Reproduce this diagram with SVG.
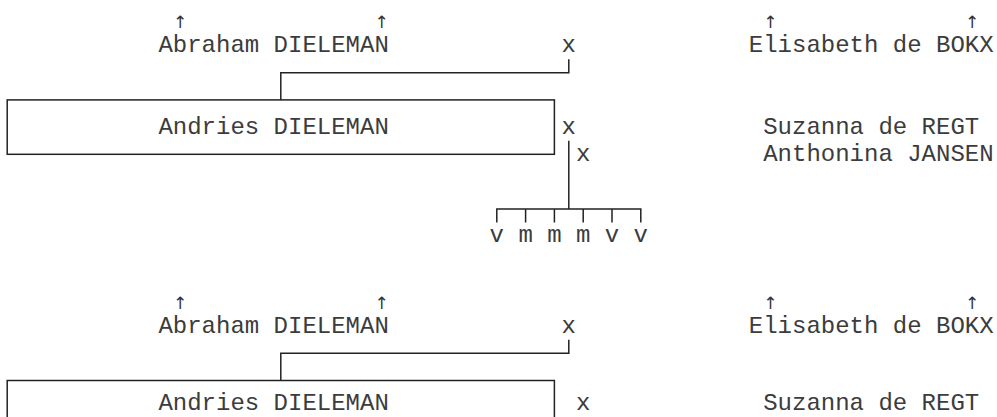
<svg xmlns="http://www.w3.org/2000/svg" width="997" height="417" viewBox="0 0 997 417">
<style>
text{font-family:"Liberation Mono","Courier New",monospace;font-size:24px;fill:#3c3c3c}
text.ar{font-family:"DejaVu Sans","DejaVu Sans Mono",sans-serif;font-size:17px;text-anchor:middle;fill:#333}
.ln{fill:none;stroke:#222;stroke-width:1.5}
</style>
<rect width="997" height="417" fill="#fff"/>
<g id="chart1">
<g id="abraham1"><text class="ar" x="180" y="28">↑</text><text class="ar" x="381.6" y="28">↑</text><text x="158.4" y="52">Abraham DIELEMAN</text></g>
<g id="marriage1"><text x="561.6" y="52">x</text></g>
<g id="elisabeth1"><text class="ar" x="770.4" y="28">↑</text><text class="ar" x="972" y="28">↑</text><text x="748.8" y="52">Elisabeth de BOKX</text></g>
<g id="andries1"><rect class="ln" x="7.2" y="99.9" width="547.2" height="54.4"/><text x="158.4" y="133.6">Andries DIELEMAN</text></g>
<g id="marriage1a"><text x="561.6" y="133.6">x</text></g>
<g id="suzanna1"><text x="763.2" y="133.6">Suzanna de REGT</text></g>
<g id="marriage1b"><text x="576" y="160.8">x</text></g>
<g id="anthonina1"><text x="763.2" y="160.8">Anthonina JANSEN</text></g>
<g id="children1"><text x="489.6" y="242.4">v</text><text x="518.4" y="242.4">m</text><text x="547.2" y="242.4">m</text><text x="576" y="242.4">m</text><text x="604.8" y="242.4">v</text><text x="633.6" y="242.4">v</text></g>
<g id="connectors1">
<path class="ln" d="M568.8 59.2V72.7H280.8V99.9"/>
<path class="ln" d="M568.8 140.8V208.9"/>
<path class="ln" d="M496.8 222.4V208.9H640.8V222.4M525.6 208.9V222.4M554.4 208.9V222.4M583.2 208.9V222.4M612 208.9V222.4"/>
</g>
</g>
<g id="chart2">
<g id="abraham2"><text class="ar" x="180" y="308.6">↑</text><text class="ar" x="381.6" y="308.6">↑</text><text x="158.4" y="332.6">Abraham DIELEMAN</text></g>
<g id="marriage2"><text x="561.6" y="332.6">x</text></g>
<g id="elisabeth2"><text class="ar" x="770.4" y="308.6">↑</text><text class="ar" x="972" y="308.6">↑</text><text x="748.8" y="332.6">Elisabeth de BOKX</text></g>
<g id="andries2"><path class="ln" d="M7.2 420V380.5H554.4V420"/><text x="158.4" y="409.5">Andries DIELEMAN</text></g>
<g id="marriage2a"><text x="576" y="409.5">x</text></g>
<g id="suzanna2"><text x="763.2" y="409.5">Suzanna de REGT</text></g>
<g id="connectors2">
<path class="ln" d="M568.8 339.8V353.3H280.8V380.5"/>
</g>
</g>
</svg>
